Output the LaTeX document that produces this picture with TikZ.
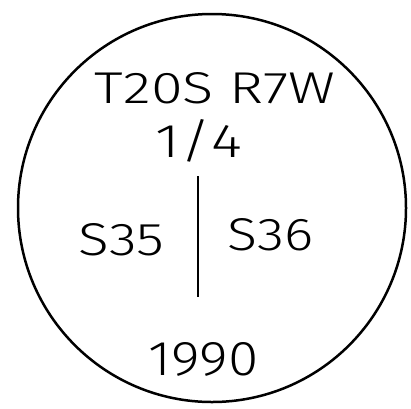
\documentclass[tikz,border=0pt]{standalone}
\usepackage{fontspec}
\setmainfont{Fira Sans Light}
\tikzset{
  lab/.style={inner sep=0pt, outer sep=0pt, anchor=base},
  seal/.style={circle, draw, line width=2.5pt, minimum size=388pt, inner sep=0pt},
  divider/.style={line width=2.6pt}
}
\begin{document}
\begin{tikzpicture}[x=1pt,y=-1pt]
\useasboundingbox (0,0) rectangle (411,408);
\node[seal] (ring) at (212,208) {};
\node[lab] (twp) at (215,103) {\resizebox{240pt}{31pt}{T20S R7W}};
\node[lab] (qtr) at (199,157) {\resizebox{86pt}{32pt}{1\smash{/}4}};
\node[lab] (sa) at (121.5,255) {\resizebox{86pt}{32pt}{S35}};
\node[lab] (sb) at (270.5,250) {\resizebox{86pt}{32pt}{S36}};
\node[lab] (yr) at (203.5,375) {\resizebox{110pt}{33pt}{1990}};
\coordinate (lt) at (198,176);
\coordinate (lb) at (198,297);
\draw[divider] (lt) -- (lb);
\end{tikzpicture}
\end{document}
